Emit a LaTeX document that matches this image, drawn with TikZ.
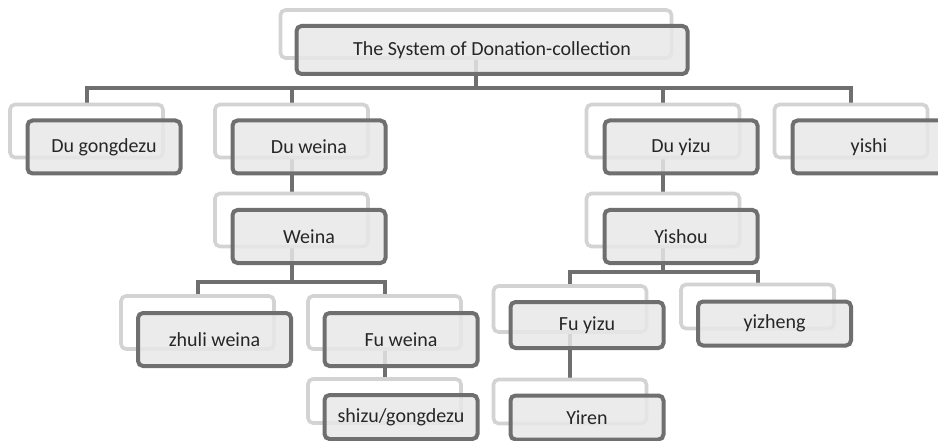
\documentclass[tikz,border=0pt]{standalone}
\usepackage{fontspec}
\setmainfont{Carlito}
\usetikzlibrary{backgrounds}
\definecolor{edgegray}{HTML}{6F6F6F}
\definecolor{shadegray}{HTML}{D3D3D3}
\definecolor{boxfill}{HTML}{E8E8E8}
\tikzset{
  backbox/.style={draw=shadegray, line width=3.6pt, fill=white, rounded corners=5pt,
    minimum width=153pt, minimum height=53pt},
  frontbox/.style={draw=edgegray, line width=4pt, fill=boxfill, fill opacity=.85,
    text opacity=1, text=black!85, rounded corners=5pt, minimum width=153pt, minimum height=53pt,
    font=\fontsize{20}{24}\selectfont},
  smallbox/.style={minimum height=44pt},
  link/.style={draw=edgegray, line width=4pt}
}

\begin{document}
\begin{tikzpicture}[x=1pt,y=-1pt]
\clip (0,0) rectangle (938,441);
% root
\node[backbox, minimum width=391pt, minimum height=48pt] (rootb) at (476,34) {};
\node[frontbox, minimum width=391pt, minimum height=48pt] (root) at (492,50) {The System of Donation-collection};
% first row
\node[backbox] (gongb) at (86.5,131) {};
\node[frontbox] (gong) at (104,147) {Du gongdezu};
\node[backbox] (duweinab) at (291.5,131) {};
\node[frontbox] (duweina) at (309,147) {Du weina};
\node[backbox] (duyizub) at (663,131) {};
\node[frontbox] (duyizu) at (681,147) {Du yizu};
\node[backbox] (yishib) at (851,131) {};
\node[frontbox] (yishi) at (869,147) {yishi};
% second row
\node[backbox] (weinab) at (291.5,220) {};
\node[frontbox] (weina) at (309,236.5) {Weina};
\node[backbox] (yishoub) at (663,220) {};
\node[frontbox] (yishou) at (681,236.5) {Yishou};
% weina branch
\node[backbox] (zhulib) at (197.5,322.5) {};
\node[frontbox] (zhuli) at (214.5,339.5) {zhuli weina};
\node[backbox] (fuweinab) at (384.5,322.5) {};
\node[frontbox] (fuweina) at (401,339.5) {Fu weina};
\node[backbox, smallbox] (shizub) at (384.5,401) {};
\node[frontbox, smallbox] (shizu) at (401,417) {shizu/gongdezu};
% yishou branch
\node[backbox, minimum height=46pt] (fuyizub) at (570,309) {};
\node[frontbox, minimum height=46pt] (fuyizu) at (587,325) {Fu yizu};
\node[backbox, smallbox] (yizhengb) at (757.5,306.5) {};
\node[frontbox, smallbox] (yizheng) at (774.5,323.5) {yizheng};
\node[backbox, smallbox] (yirenb) at (570,401.5) {};
\node[frontbox, smallbox] (yiren) at (587,417.5) {Yiren};

\begin{scope}[on background layer]
  \coordinate (bus1) at (0,88);
  \coordinate (bus2) at (0,282);
  \coordinate (bus3) at (0,272);
  \foreach \c in {gongb,duweinab,duyizub,yishib}
    \draw[link] (rootb.center) -- (rootb |- bus1) -| (\c.north);
  \draw[link] (duweinab.center) -- (weinab.north);
  \draw[link] (duyizub.center) -- (yishoub.north);
  \foreach \c in {zhulib,fuweinab}
    \draw[link] (weinab.center) -- (weinab |- bus2) -| (\c.north);
  \foreach \c in {fuyizub,yizhengb}
    \draw[link] (yishoub.center) -- (yishoub |- bus3) -| (\c.north);
  \draw[link] (fuweinab.center) -- (shizub.north);
  \draw[link] (fuyizub.center) -- (yirenb.north);
\end{scope}
\end{tikzpicture}
\end{document}
